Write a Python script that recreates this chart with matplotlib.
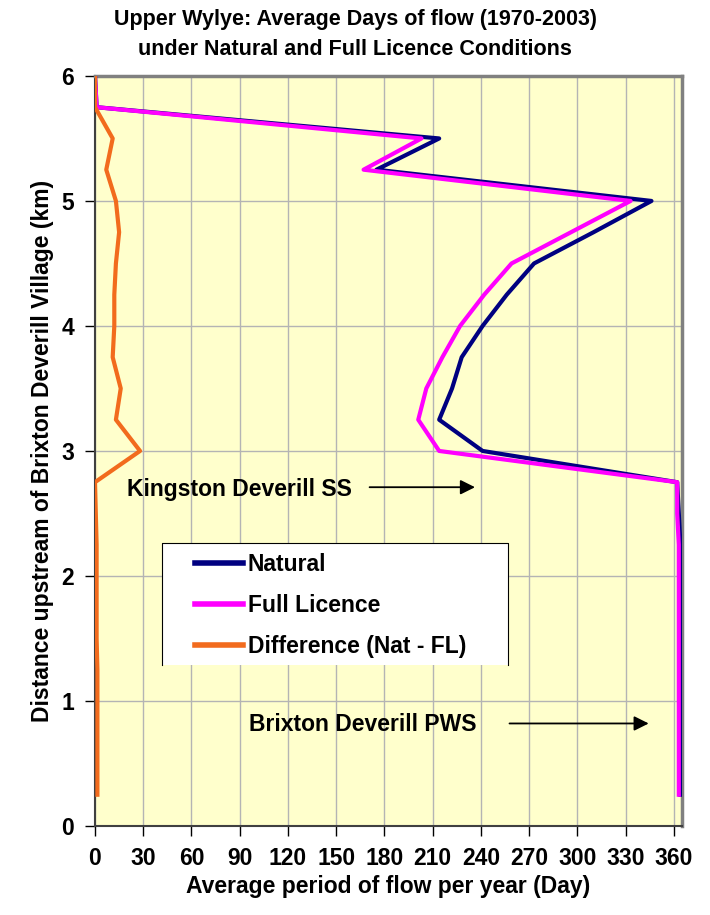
# Upper Wylye - average days of flow, natural vs full licence

import matplotlib.pyplot as plt
from matplotlib.patches import Rectangle

plt.rcParams['font.family'] = ['Liberation Sans', 'DejaVu Sans']
plt.rcParams['font.weight'] = 'bold'
plt.rcParams['axes.titleweight'] = 'bold'
plt.rcParams['axes.labelweight'] = 'bold'

# distance upstream (km)
distance = [0.25, 0.5, 0.75, 1.0, 1.25, 1.5, 1.75, 2.0, 2.25, 2.5, 2.75, 3.0,
            3.25, 3.5, 3.75, 4.0, 4.25, 4.5, 4.75, 5.0, 5.25, 5.5, 5.75, 6.0]

# average days of flow per year
natural = [364, 364, 364, 364, 364, 364, 364, 364, 364, 363, 362, 241,
           214, 222, 228, 241, 256, 273, 310, 346, 175, 214, 1, 0]
full_licence = [363, 363, 363, 363, 363, 363, 363, 363, 363, 362, 362, 214,
                201, 206, 216, 227, 242, 259, 296, 333, 167, 203, 1, 0]
difference = [1.5, 1.5, 1.5, 1.5, 1.5, 1, 1, 1, 1, 0.5, 0, 28,
              13, 16, 11, 12, 12, 13, 15, 13, 7, 11, 0, 0]

fig = plt.figure(figsize=(7.1, 9.15), dpi=100)
ax = fig.add_axes([0.1338, 0.0973, 0.8268, 0.8197])
ax.set_facecolor('#FFFFCC')

ax.plot(natural, distance, color='#000080', lw=3, label='Natural', zorder=3)
ax.plot(full_licence, distance, color='#FF00FF', lw=3, label='Full Licence', zorder=4)
ax.plot(difference, distance, color='#F26B1D', lw=3, label='Difference (Nat - FL)', zorder=5)

ax.set_xlim(0, 365)
ax.set_ylim(0, 6)
ax.set_xticks(range(0, 361, 30))
ax.set_yticks(range(0, 7))
ax.tick_params(labelsize=16.5, length=7, width=1, pad=8)
ax.grid(True, color='#B4B4B4', lw=1, zorder=0)
ax.set_axisbelow(True)

for side in ['left', 'bottom']:
    ax.spines[side].set_color('#404040')
    ax.spines[side].set_linewidth(1.5)
for side in ['top', 'right']:
    ax.spines[side].set_color('#808080')
    ax.spines[side].set_linewidth(2.5)

ax.set_xlabel('Average period of flow per year (Day)', fontsize=16.5, labelpad=4)
ax.set_ylabel('Distance upstream of Brixton Deverill Village (km)', fontsize=16.5)
ax.yaxis.set_label_coords(-0.07, 0.5)
fig.suptitle('Upper Wylye: Average Days of flow (1970-2003)\nunder Natural and Full Licence Conditions',
             fontsize=15.5, fontweight='bold', x=0.5, y=0.99, va='top', linespacing=1.55)

# annotations
ax.text(20, 2.69, 'Kingston Deverill SS', fontsize=16.5, va='center', ha='left')
ax.annotate('', xy=(238, 2.71), xytext=(169, 2.71),
            arrowprops=dict(arrowstyle='-|>', color='black', lw=1.3, mutation_scale=22))
ax.text(96, 0.81, 'Brixton Deverill PWS', fontsize=16.5, va='center', ha='left')
ax.annotate('', xy=(346, 0.82), xytext=(256, 0.82),
            arrowprops=dict(arrowstyle='-|>', color='black', lw=1.3, mutation_scale=22))

# legend box (open at the bottom like the original)
ax.add_patch(Rectangle((0.114, 0.215), 0.59, 0.162, transform=ax.transAxes,
                       facecolor='white', edgecolor='none', zorder=6))
ax.plot([0.114, 0.114, 0.704, 0.704], [0.215, 0.377, 0.377, 0.215],
        transform=ax.transAxes, color='black', lw=0.8, zorder=7, clip_on=False)
leg = ax.legend(loc='center left', bbox_to_anchor=(0.170, 0.294), fontsize=16.5,
                frameon=False, handlelength=2.1, handletextpad=0.2,
                labelspacing=0.8, borderpad=0, borderaxespad=0)
for line in leg.get_lines():
    line.set_linewidth(4)
leg.set_zorder(8)

fig.savefig('out.png', dpi=100)
